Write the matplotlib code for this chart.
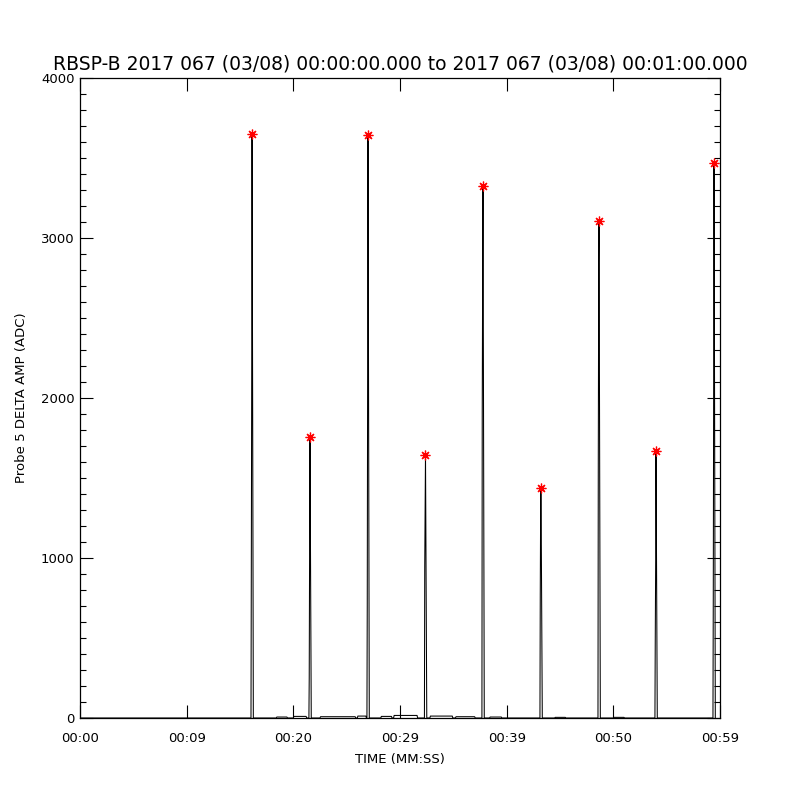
import matplotlib
matplotlib.use("Agg")
import matplotlib.pyplot as plt
import numpy as np

# Picos (segundos desde 00:00:00 y valores en ADC)
pico_t = [16.13, 21.56, 27.00, 32.39, 37.78, 43.22, 48.66, 54.00, 59.44]
pico_val = [3650, 1756, 3644, 1644, 3325, 1438, 3106, 1669, 3469]
escalon_alto = [2200, 1160, 2360, 1350, 2830, 1400, 2856, 990, 2270]
escalon_bajo = [900, 250, 700, 950, 1910, 770, 1612, 480, 750]

# Pequeñas variaciones de la linea base (inicio, fin, valor)
base_ini = [18.4, 20.0, 22.5, 26.0, 28.2, 29.4, 32.8, 35.2, 38.4, 44.5, 50.0]
base_fin = [19.4, 21.2, 25.8, 26.8, 29.2, 31.6, 34.9, 37.0, 39.5, 45.5, 51.0]
base_val = [6, 10, 8, 12, 10, 16, 12, 8, 6, 4, 4]

titulo = "RBSP-B 2017 067 (03/08) 00:00:00.000 to 2017 067 (03/08) 00:01:00.000"
etiquetas_x = ["00:00", "00:09", "00:20", "00:29", "00:39", "00:50", "00:59"]

# Construir la serie temporal
puntos = [(0.0, 0.0)]
for ti, tf, v in zip(base_ini, base_fin, base_val):
    puntos += [(ti, 0.0), (ti + 0.05, v), (tf, v), (tf + 0.05, 0.0)]
for tp, vp, va, vb in zip(pico_t, pico_val, escalon_alto, escalon_bajo):
    puntos += [(tp - 0.10, 0.0), (tp - 0.07, vb), (tp - 0.03, va),
               (tp, vp), (tp + 0.12, 0.0)]
puntos.sort()
tiempo = np.array([p[0] for p in puntos])
valor = np.array([p[1] for p in puntos])

fig = plt.figure(figsize=(8, 8), dpi=100)
ax = fig.add_axes([0.1, 0.1025, 0.8, 0.8])

ax.plot(tiempo, valor, color="black", lw=0.75)
ax.plot(pico_t, pico_val, linestyle="none", marker=(8, 2, 0), color="red",
        markersize=7, markeredgewidth=0.9)

ax.set_xlim(0, 60)
ax.set_ylim(0, 4000)
ax.set_xticks(np.linspace(0, 60, 7))
ax.set_xticklabels(etiquetas_x)
ax.set_yticks([0, 1000, 2000, 3000, 4000])
ax.set_yticks(np.arange(0, 4001, 100), minor=True)

ax.tick_params(axis="both", direction="in", top=True, right=True,
               length=9.5, width=0.8, labelsize=9.5)
ax.tick_params(axis="y", which="minor", direction="in", right=True,
               length=4.5, width=0.8)
ax.tick_params(axis="x", pad=10)
ax.tick_params(axis="y", pad=4)
for s in ax.spines.values():
    s.set_linewidth(0.9)

ax.set_title(titulo, fontsize=13.5, pad=6)
ax.set_xlabel("TIME (MM:SS)", fontsize=9.5, labelpad=6)
ax.set_ylabel("Probe 5 DELTA AMP (ADC)", fontsize=9.5, labelpad=9)

fig.savefig("out.png", dpi=100)
